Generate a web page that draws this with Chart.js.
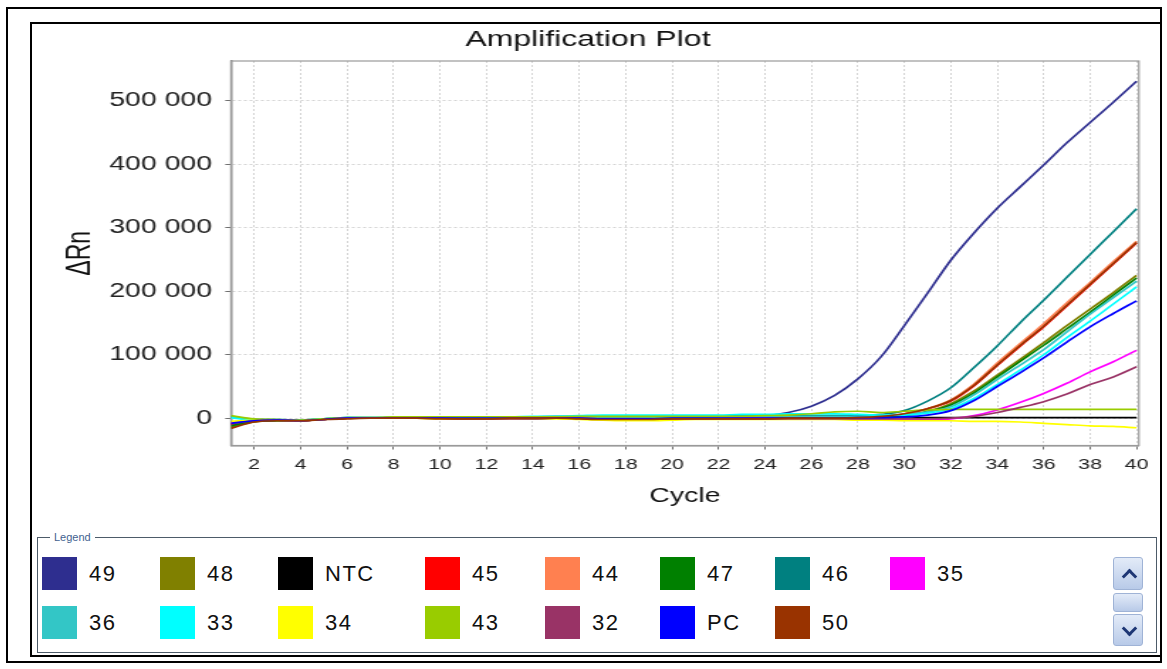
<!DOCTYPE html>
<html>
<head>
<meta charset="utf-8">
<title>Amplification Plot</title>
<script src="https://cdn.jsdelivr.net/npm/chart.js@4/dist/chart.umd.min.js"></script>
<style>
  html, body { margin: 0; padding: 0; background: #fff; }
  body { width: 1167px; height: 669px; position: relative; overflow: hidden;
         font-family: "Liberation Sans", Arial, sans-serif; }
  .frame-outer { position: absolute; left: 6px; top: 7px; width: 1156px; height: 656px;
                 border: 2px solid #000; box-sizing: border-box; }
  .frame-inner { position: absolute; left: 30px; top: 22px; width: 1132px; height: 635px;
                 border: 2px solid #000; box-sizing: border-box; }
  /* the plot is drawn narrow and widened horizontally */
  #plotWrap { position: absolute; left: 33px; top: 25px; width: 792px; height: 507px;
              transform: scaleX(1.42); transform-origin: 0 0; }
  .legend-box { position: absolute; left: 37px; top: 537px; width: 1120px; height: 116px;
                border: 1px solid #4d5b69; box-sizing: border-box; }
  .legend-caption { position: absolute; left: 12px; top: -8px; background: #fff; padding: 0 4px;
                    font-size: 11px; color: #3f5f8f; line-height: 14px; }
  #legendItems { position: absolute; left: 4px; top: 19px; display: grid;
                 grid-template-columns: 118px 118px 147px 120px 115px 115px 115px 115px;
                 grid-auto-rows: 49px; }
  .item { display: flex; align-items: flex-start; }
  .swatch { width: 35px; height: 33px; flex: none; }
  .item span { margin-left: 12px; font-size: 22px; letter-spacing: 1.5px; color: #111; line-height: 33px; }
  .sbtn { position: absolute; left: 1113px; width: 30px; box-sizing: border-box;
          background: linear-gradient(#e3ebf8, #b8cae8); border: 1px solid #9fb3d6; border-radius: 3px; }
  .chev { position: absolute; left: 10px; width: 8px; height: 8px;
          border-left: 3px solid #1d3674; border-top: 3px solid #1d3674; }
</style>
</head>
<body>
<div class="frame-outer"></div>
<div class="frame-inner"></div>

<div id="plotWrap"><canvas id="amp" width="792" height="507"></canvas></div>

<div class="legend-box">
  <div class="legend-caption">Legend</div>
  <div id="legendItems"></div>
</div>
<div class="sbtn" style="top:557px;height:33px;"><div class="chev" style="top:13px;transform:rotate(45deg);"></div></div>
<div class="sbtn" style="top:593px;height:19px;"></div>
<div class="sbtn" style="top:614px;height:32px;"><div class="chev" style="top:8px;transform:rotate(225deg);"></div></div>

<script>
// PCR cycle numbers
const cycles = [1,2,3,4,5,6,7,8,9,10,11,12,13,14,15,16,17,18,19,20,
                21,22,23,24,25,26,27,28,29,30,31,32,33,34,35,36,37,38,39,40];

// axis tick values and labels
const xTickValues = [2,4,6,8,10,12,14,16,18,20,22,24,26,28,30,32,34,36,38,40];
const yTickValues = [0,100000,200000,300000,400000,500000];
const yTickLabels = ['0','100 000','200 000','300 000','400 000','500 000'];

// sample names and their colours
const sampleNames  = ['49','48','NTC','45','44','47','46','35','36','33','34','43','32','PC','50'];
const sampleColors = ['#2e2e8f','#808000','#000000','#ff0000','#ff8050','#008000','#008080','#ff00ff',
                      '#33c6c6','#00ffff','#ffff00','#99cc00','#993366','#0000ff','#993300'];

// ΔRn per cycle for each sample
const s49  = [-6000,-3000,-3000,-4000,-2000,0,0,1000,1000,0,0,0,0,1000,1000,1000,0,0,0,1000,
              1000,1000,2000,4000,9000,19000,36000,62000,97000,146000,197000,249000,292000,331000,365000,399000,434000,466000,498000,531000];
const s48  = [-14000,-6000,-4000,-4000,-2000,0,0,1000,1000,0,0,-1000,-1000,0,0,0,-1000,-1000,-1000,0,
              0,0,0,0,0,0,1000,1000,2000,5000,11000,23000,43000,68000,93000,119000,146000,172000,198000,225000];
const sNTC = [-9000,-4000,-3000,-4000,-2000,0,0,0,0,0,0,0,-1000,-1000,0,0,-1000,-1000,-2000,-1000,
              -1000,-1000,-1000,-1000,-1000,-1000,-1000,-1000,0,0,1000,1000,1000,1000,1000,1000,1000,1000,1000,1000];
const s45  = [-10000,-5000,-3000,-4000,-2000,0,0,1000,0,0,-1000,-1000,0,0,0,-1000,-1000,-2000,-2000,-1000,
              -1000,-1000,-1000,-1000,0,0,0,1000,3000,7000,15000,27000,51000,83000,114000,144000,177000,210000,243000,276000];
const s44  = [-8000,-4000,-3000,-4000,-2000,0,0,1000,1000,0,0,0,0,0,0,0,-1000,-2000,-2000,-1000,
              -1000,-1000,-1000,0,0,0,0,1000,3000,6000,15000,29000,54000,87000,118000,149000,182000,214000,247000,279000];
const s47  = [-12000,-5000,-4000,-4000,-2000,0,0,1000,1000,0,0,-1000,0,0,0,0,-1000,-1000,-1000,0,
              0,0,0,0,0,0,1000,1000,2000,4000,10000,21000,40000,65000,90000,115000,141000,167000,194000,221000];
const s46  = [2000,-2000,-2000,-3000,-1000,1000,1000,1000,1000,1000,1000,1000,2000,2000,3000,3000,3000,3000,3000,3000,
              3000,3000,4000,4000,4000,4000,4000,4000,6000,12000,27000,48000,80000,114000,151000,186000,222000,258000,294000,330000];
const s35  = [-7000,-3000,-3000,-4000,-2000,0,0,0,0,0,0,-1000,-1000,0,0,0,-1000,-1000,-1000,-1000,
              -1000,0,0,0,-1000,-1000,-1000,-1000,-2000,-3000,-3000,-1000,4000,13000,25000,39000,55000,73000,89000,107000];
const s36  = [3000,-2000,-2000,-3000,-1000,1000,1000,1000,1000,1000,1000,1000,1000,2000,2000,2000,2000,2000,2000,2000,
              2000,2000,3000,3000,3000,3000,3000,3000,4000,6000,10000,18000,37000,61000,84000,108000,136000,164000,190000,216000];
const s33  = [1000,-3000,-3000,-3000,-1000,1000,1000,1000,1000,1000,1000,2000,2000,3000,3000,4000,5000,5000,5000,5000,
              5000,5000,6000,6000,7000,7000,7000,6000,5000,5000,8000,15000,31000,53000,76000,100000,127000,153000,180000,207000];
const s34  = [-5000,-3000,-3000,-4000,-2000,0,0,0,0,-1000,-1000,-1000,-1000,-1000,-1000,-2000,-3000,-4000,-4000,-3000,
              -2000,-2000,-2000,-2000,-2000,-2000,-2000,-3000,-3000,-4000,-4000,-4000,-5000,-5000,-6000,-8000,-10000,-12000,-13000,-15000];
const s43  = [4000,-1000,-2000,-3000,-1000,1000,1000,2000,2000,2000,2000,2000,2000,2000,2000,3000,3000,3000,3000,3000,
              3000,3000,3000,4000,5000,7000,10000,11000,9000,11000,13000,14000,14000,14000,14000,14000,14000,14000,14000,14000];
const s32  = [-9000,-4000,-3000,-4000,-2000,0,0,0,0,0,-1000,-1000,-1000,-1000,0,0,-1000,-1000,-1000,-1000,
              -1000,-1000,-1000,-1000,-1000,-1000,-1000,-1000,-1000,-1000,-1000,0,3000,9000,17000,26000,38000,53000,65000,81000];
const sPC  = [-8000,-4000,-3000,-4000,-2000,0,0,0,0,0,0,0,0,0,0,0,-1000,-1000,-1000,0,
              0,0,0,0,0,0,0,1000,1000,2000,5000,12000,28000,50000,72000,95000,120000,144000,165000,185000];
const s50  = [-16000,-6000,-4000,-4000,-2000,-1000,0,0,0,-1000,-1000,-1000,0,0,0,-1000,-2000,-2000,-2000,-1000,
              -1000,-1000,-1000,-1000,0,0,0,1000,3000,7000,15000,28000,52000,84000,115000,145000,178000,211000,244000,277000];

const sampleValues = [s49, s48, sNTC, s45, s44, s47, s46, s35, s36, s33, s34, s43, s32, sPC, s50];

const FONT = '"Liberation Sans", Arial, sans-serif';

// grey box around the plotting area
const plotFrame = {
  id: 'plotFrame',
  beforeDatasetsDraw(chart) {
    const { ctx, chartArea: a } = chart;
    ctx.save();
    ctx.strokeStyle = '#9a9a9a';
    ctx.lineWidth = 1.2;
    ctx.strokeRect(a.left, a.top, a.right - a.left, a.bottom - a.top);
    ctx.restore();
  }
};

// sample key built from the chart's datasets
const htmlLegend = {
  id: 'htmlLegend',
  afterUpdate(chart) {
    const box = document.getElementById('legendItems');
    box.innerHTML = '';
    chart.data.datasets.forEach(ds => {
      const item = document.createElement('div');
      item.className = 'item';
      const sw = document.createElement('div');
      sw.className = 'swatch';
      sw.style.background = ds.borderColor;
      const txt = document.createElement('span');
      txt.textContent = ds.label;
      item.appendChild(sw);
      item.appendChild(txt);
      box.appendChild(item);
    });
  }
};

// later samples are painted over earlier ones
const datasets = sampleNames.map((name, i) => ({
  label: name,
  data: sampleValues[i].map((v, j) => ({ x: cycles[j], y: v })),
  borderColor: sampleColors[i],
  backgroundColor: sampleColors[i],
  borderWidth: 1.7,
  pointRadius: 0,
  fill: false,
  order: -i,
  cubicInterpolationMode: 'monotone'
}));

new Chart(document.getElementById('amp'), {
  type: 'line',
  data: { datasets },
  options: {
    responsive: false,
    animation: false,
    devicePixelRatio: 1,
    layout: { padding: { left: 0, right: 10.3, top: 0, bottom: 0 } },
    plugins: {
      legend: { display: false },
      tooltip: { enabled: false },
      title: {
        display: true,
        text: 'Amplification Plot',
        color: '#111',
        font: { family: FONT, size: 22.5, weight: 'normal' },
        padding: { top: 1.5, bottom: 7.5 }
      }
    },
    scales: {
      x: {
        type: 'linear',
        min: 1,
        max: 40.1,
        afterBuildTicks(scale) { scale.ticks = xTickValues.map(v => ({ value: v })); },
        afterFit(scale) { scale.height = 86.5; },
        grid: { color: '#d4d4d4', lineWidth: 1, tickColor: '#6f6f6f', tickLength: 4, tickBorderDash: [] },
        border: { color: '#8a8a8a', width: 1.5, dash: [2, 2] },
        ticks: { color: '#222', font: { family: FONT, size: 15 }, padding: 6.5, maxRotation: 0, autoSkip: false },
        title: { display: true, text: 'Cycle', color: '#111', font: { family: FONT, size: 20 }, padding: { top: 0, bottom: 24 } }
      },
      y: {
        type: 'linear',
        min: -43000,
        max: 563000,
        afterBuildTicks(scale) { scale.ticks = yTickValues.map(v => ({ value: v })); },
        afterFit(scale) { scale.width = 139.4; },
        grid: { color: '#d4d4d4', lineWidth: 1, tickColor: '#6f6f6f', tickLength: 4, tickBorderDash: [] },
        border: { color: '#8a8a8a', width: 1.5, dash: [2, 2] },
        ticks: {
          color: '#222',
          font: { family: FONT, size: 20 },
          padding: 9.4,
          callback: v => yTickLabels[yTickValues.indexOf(v)]
        },
        title: { display: true, text: 'ΔRn', color: '#111', font: { family: FONT, size: 23 }, padding: { top: 19.7, bottom: 0 } }
      }
    }
  },
  plugins: [plotFrame, htmlLegend]
});
</script>
</body>
</html>
